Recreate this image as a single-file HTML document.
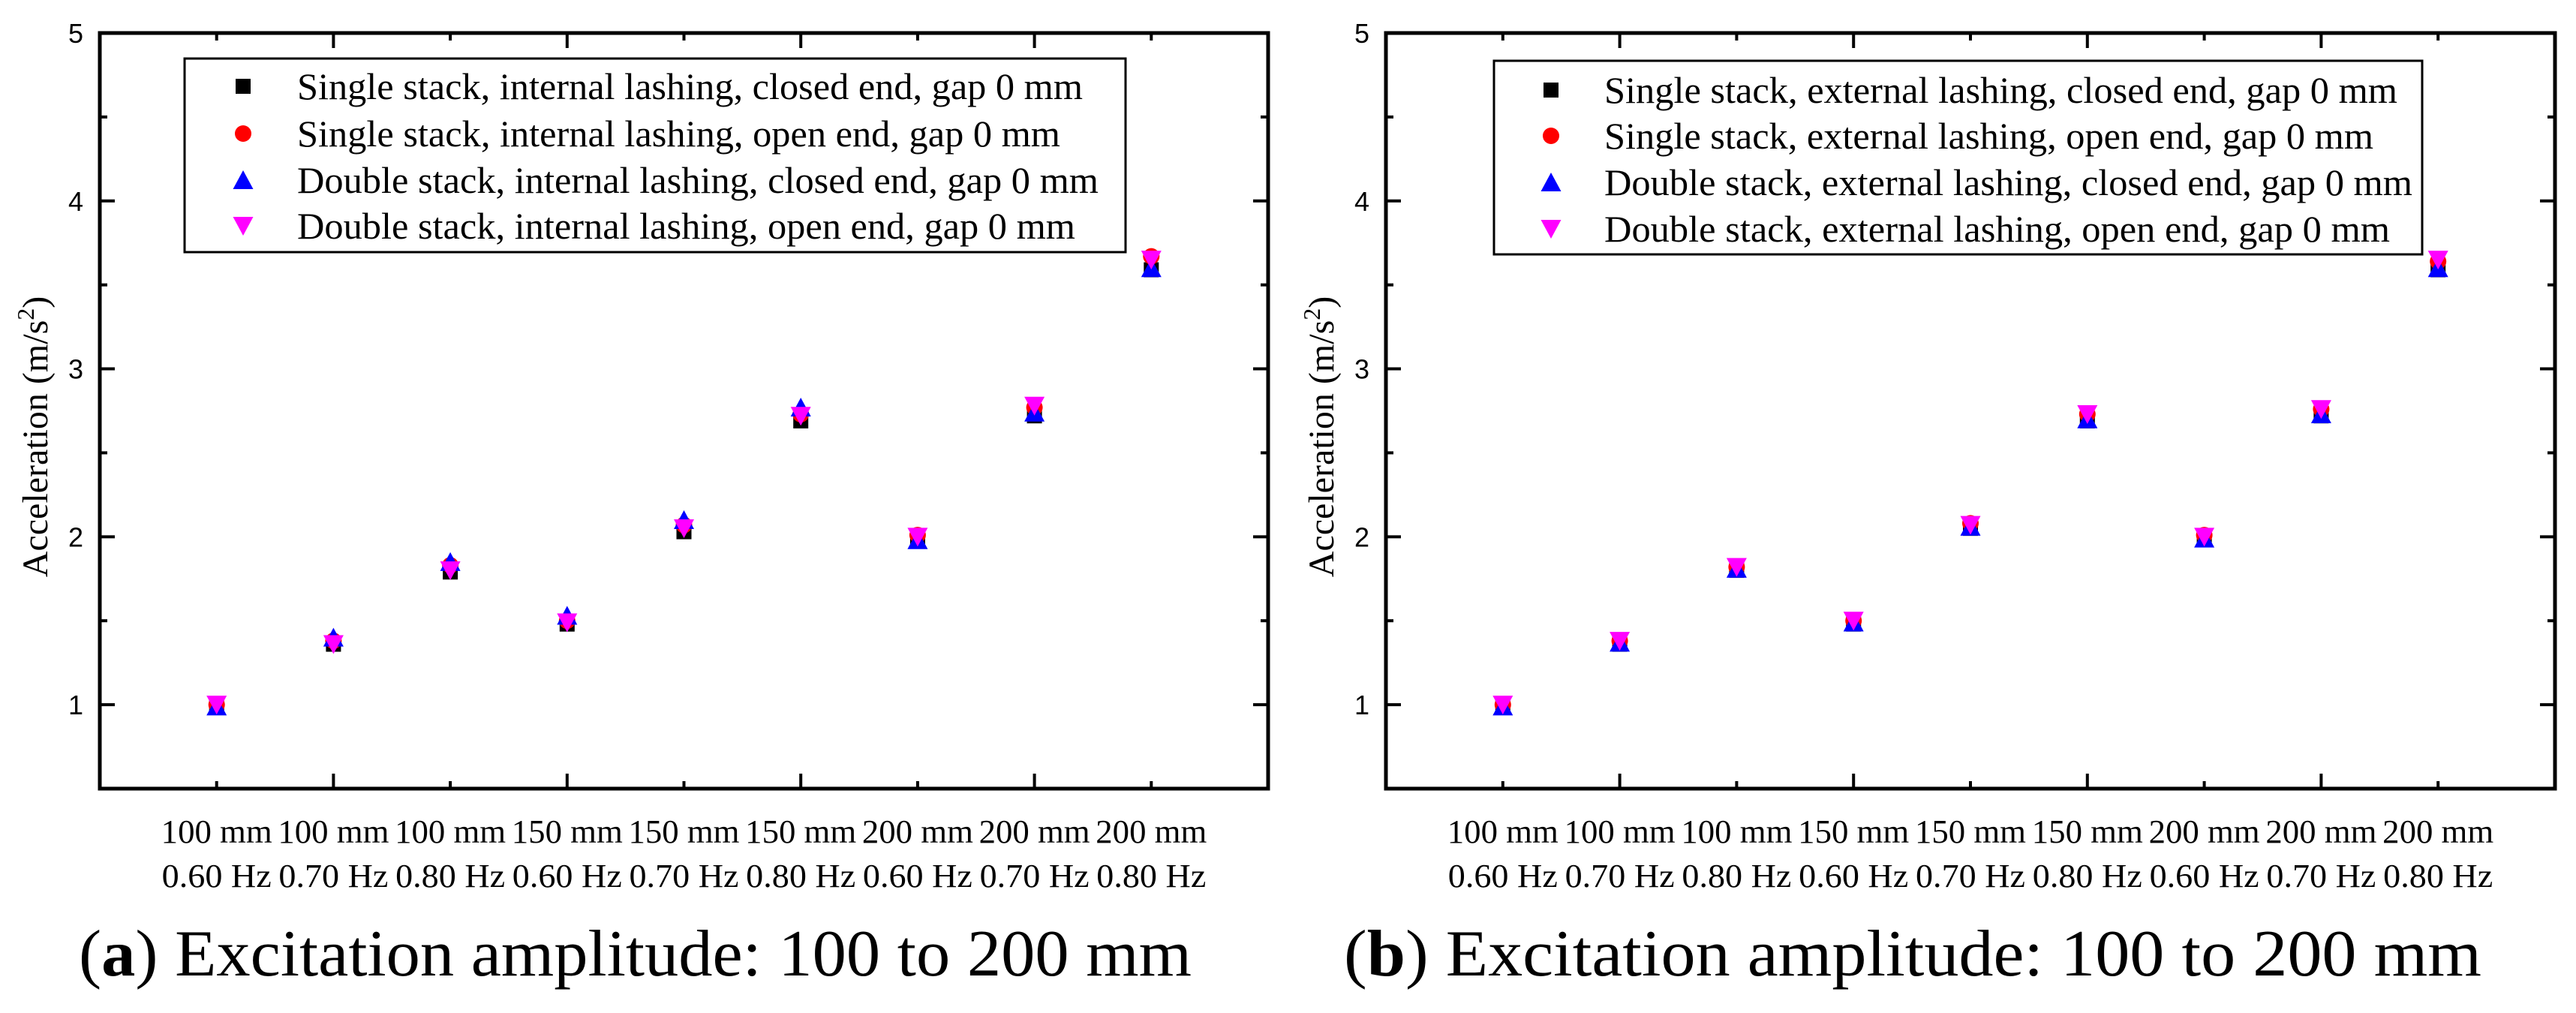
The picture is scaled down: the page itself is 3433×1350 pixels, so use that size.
<!DOCTYPE html>
<html><head><meta charset="utf-8">
<style>
html,body{margin:0;padding:0;background:#fff;}
svg{display:block;}
</style></head>
<body>
<svg id="fig" width="3433" height="1350" viewBox="0 0 3433 1350" xmlns="http://www.w3.org/2000/svg"></svg>
<script>
const categoriesLine1 = ["100 mm","100 mm","100 mm","150 mm","150 mm","150 mm","200 mm","200 mm","200 mm"];
const categoriesLine2 = ["0.60 Hz","0.70 Hz","0.80 Hz","0.60 Hz","0.70 Hz","0.80 Hz","0.60 Hz","0.70 Hz","0.80 Hz"];
const yTickValues = [1,2,3,4,5];
const yTickLabels = ["1","2","3","4","5"];
// Panel (a) internal lashing
const aSingleClosed = [1.00,1.36,1.79,1.48,2.03,2.69,1.98,2.72,3.59];
const aSingleOpen   = [1.00,1.38,1.83,1.50,2.07,2.73,2.01,2.77,3.67];
const aDoubleClosed = [0.99,1.40,1.85,1.53,2.10,2.77,1.98,2.74,3.60];
const aDoubleOpen   = [1.00,1.36,1.80,1.49,2.05,2.72,2.00,2.78,3.65];
// Panel (b) external lashing
const bSingleClosed = [0.99,1.36,1.80,1.48,2.05,2.69,1.99,2.72,3.59];
const bSingleOpen   = [1.00,1.38,1.82,1.50,2.08,2.73,2.01,2.76,3.64];
const bDoubleClosed = [0.99,1.37,1.81,1.49,2.06,2.70,1.99,2.73,3.60];
const bDoubleOpen   = [1.00,1.38,1.82,1.50,2.07,2.73,2.00,2.76,3.65];
const legendA = ["Single stack, internal lashing, closed end, gap 0 mm","Single stack, internal lashing, open end, gap 0 mm","Double stack, internal lashing, closed end, gap 0 mm","Double stack, internal lashing, open end, gap 0 mm"];
const legendB = ["Single stack, external lashing, closed end, gap 0 mm","Single stack, external lashing, open end, gap 0 mm","Double stack, external lashing, closed end, gap 0 mm","Double stack, external lashing, open end, gap 0 mm"];

const NS="http://www.w3.org/2000/svg";
const svg=document.getElementById('fig');
function mk(tag,attrs,parent){const e=document.createElementNS(NS,tag);for(const k in attrs)e.setAttribute(k,attrs[k]);(parent||svg).appendChild(e);return e;}
const SERIF='"Liberation Serif", serif', SANS='"Liberation Sans", sans-serif';
const colors=["#000000","#ff0000","#0000ff","#ff00ff"];
const shapes=["square","circle","up","down"];

function marker(g,shape,cx,cy,color,name){
  let m;
  if(shape==="square") m=mk('rect',{x:cx-10,y:cy-10,width:20,height:20,fill:color},g);
  else if(shape==="circle") m=mk('circle',{cx:cx,cy:cy,r:11,fill:color},g);
  else if(shape==="up") m=mk('polygon',{points:`${cx-13.5},${cy+12} ${cx+13.5},${cy+12} ${cx},${cy-13}`,fill:color},g);
  else m=mk('polygon',{points:`${cx-13.5},${cy-12} ${cx+13.5},${cy-12} ${cx},${cy+13}`,fill:color},g);
  
  
  return m;
}

function panel(cfg){
  const L=cfg.left,R=cfg.right,T=44,B=1051;
  const xs=v=>L+(R-L)*v/10;
  const ys=v=>B-(B-T)*(v-0.5)/4.5;
  const g=mk('g',{});
  
  
  for(let i=1;i<10;i++){
    const len=(i%2===0)?20:10;
    const x=xs(i);
    const t1=mk('line',{x1:x,y1:B,x2:x,y2:B-len,stroke:'#000','stroke-width':4},g);
    
    
    const t2=mk('line',{x1:x,y1:T,x2:x,y2:T+len,stroke:'#000','stroke-width':4},g);
    
    
  }
  for(let v=1;v<5;v+=0.5){
    const len=(Number.isInteger(v))?20:10;
    const y=ys(v);
    const a=mk('line',{x1:L,y1:y,x2:L+len,y2:y,stroke:'#000','stroke-width':4},g);
    
    
    const b=mk('line',{x1:R,y1:y,x2:R-len,y2:y,stroke:'#000','stroke-width':4},g);
    
    
  }
  const fr=mk('rect',{x:L,y:T,width:R-L,height:B-T,fill:'none',stroke:'#000','stroke-width':5},g);
  
  
  yTickValues.forEach((v,i)=>{
    const t=mk('text',{x:L-22,y:ys(v)+13,'text-anchor':'end','font-family':SANS,'font-size':36,fill:'#000'},g);
    t.textContent=yTickLabels[i];
    
    
  });
  const yt=mk('text',{x:0,y:0,'text-anchor':'middle','font-family':SERIF,'font-size':48,fill:'#000',transform:`translate(${L-70},582) rotate(-90)`},g);
  
  
  yt.innerHTML='Acceleration (m/s<tspan dy="-18" font-size="32">2</tspan><tspan dy="18">)</tspan>';
  categoriesLine1.forEach((c,i)=>{
    const x=xs(i+1);
    const t=mk('text',{x:x,y:1123,'text-anchor':'middle','font-family':SERIF,'font-size':44,fill:'#000',textLength:148,lengthAdjust:'spacingAndGlyphs'},g);
    t.textContent=c;
    
    
    const t2=mk('text',{x:x,y:1182,'text-anchor':'middle','font-family':SERIF,'font-size':44,fill:'#000',textLength:146,lengthAdjust:'spacingAndGlyphs'},g);
    t2.textContent=categoriesLine2[i];
    
    
  });
  cfg.series.forEach((s,si)=>{
    s.forEach((v,i)=>{
      marker(g,shapes[si],xs(i+1),ys(v),colors[si],'data-point');
    });
  });
  const lg=mk('g',{},g);
  
  
  const lb=mk('rect',{x:cfg.lgL,y:cfg.lgT,width:cfg.lgR-cfg.lgL,height:cfg.lgB-cfg.lgT,fill:'#fff',stroke:'#000','stroke-width':3},lg);
  
  
  cfg.legend.forEach((txt,i)=>{
    const base=cfg.rows[i];
    marker(lg,shapes[i],cfg.mx,base-17,colors[i],'legend-marker');
    const t=mk('text',{x:cfg.tx,y:base,'font-family':SERIF,'font-size':50,fill:'#000',textLength:cfg.ends[i]-cfg.tx,lengthAdjust:'spacingAndGlyphs'},lg);
    t.textContent=txt;
    
    
  });
  const cap=mk('text',{x:cfg.capX,y:1300,'font-family':SERIF,'font-size':88,fill:'#000',textLength:cfg.capW,lengthAdjust:'spacingAndGlyphs'},g);
  
  
  cap.innerHTML='(<tspan font-weight="bold">'+cfg.letter+'</tspan>) Excitation amplitude: 100 to 200 mm';
}

panel({name:'panel-a',letter:'a',left:133,right:1690,lgL:246,lgT:78,lgR:1500,lgB:336,mx:324,tx:396,
  rows:[132,195,257,318],ends:[1443,1413,1464,1433],legend:legendA,capX:105,capW:1483,
  series:[aSingleClosed,aSingleOpen,aDoubleClosed,aDoubleOpen]});
panel({name:'panel-b',letter:'b',left:1847,right:3405,lgL:1991,lgT:81,lgR:3228,lgB:339,mx:2067,tx:2138,
  rows:[137,198,260,322],ends:[3195,3163,3215,3185],legend:legendB,capX:1791,capW:1516,
  series:[bSingleClosed,bSingleOpen,bDoubleClosed,bDoubleOpen]});
</script>
</body></html>
